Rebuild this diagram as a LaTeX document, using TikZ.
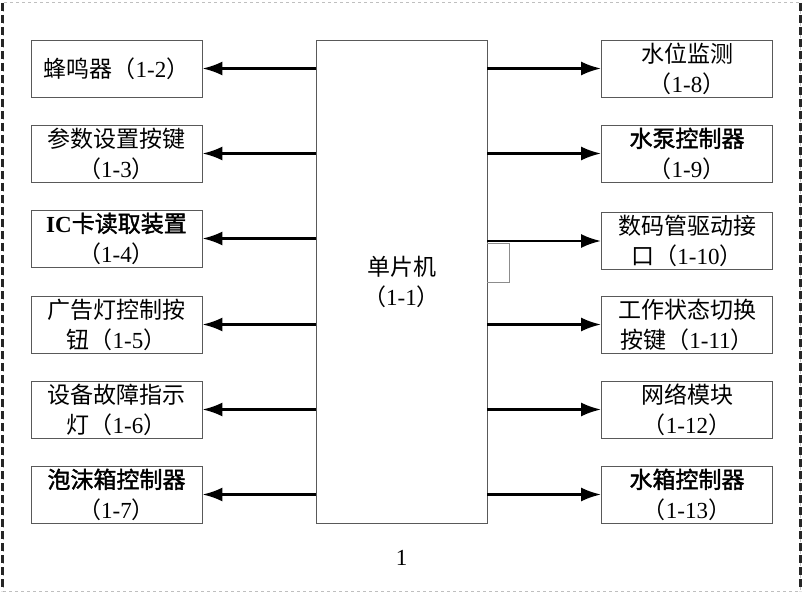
\documentclass[tikz,border=0pt]{standalone}
\usepackage{fontspec}
\setmainfont{Liberation Serif}
\newfontfamily\cjk{Noto Sans CJK SC}
\newfontfamily\cjkheavy{Noto Sans CJK SC}[FakeBold=1.6]
\usetikzlibrary{arrows.meta}
\newcommand\zh[1]{{\cjk #1}}
\newcommand\zhb[1]{{\cjkheavy #1}}
\newcommand\unitno[1]{\zh{（}1-#1\zh{）}}
\tikzset{
  unit/.style={draw=black!65, line width=0.8pt, minimum width=171pt, minimum height=57pt,
    inner sep=0pt, align=center, font=\fontsize{23}{30}\selectfont},
  link/.style={line width=2.6pt, -{Latex[length=20pt,width=14pt]}},
  edge/.style={dash pattern=on 8pt off 4pt, line width=2.4pt, black!85},
}

\begin{document}
\begin{tikzpicture}[x=1pt,y=-1pt]
	%%%%% FRAME %%%%%
	\useasboundingbox (0,0) rectangle (803,596);
	\draw[dashed, black!25, line width=1pt] (3,3) rectangle (800,591);
	\draw[edge] (2.5,3) -- (2.5,591);
	\draw[edge] (800.5,3) -- (800.5,591);
	
	%%%%% MCU %%%%%
	\node[unit, minimum height=483pt] (mcu) at (401.5,281.5) {\zh{单片机}\\\unitno{1}};
	
	%%%%% LEFT %%%%%
	\node[unit] (buzzer) at (116.5,68.5) {\zh{蜂鸣器}\unitno{2}};
	\node[unit] (setkey) at (116.5,153.5) {\zh{参数设置按键}\\\unitno{3}};
	\node[unit] (icread) at (116.5,238.5) {\textbf{IC}\zhb{卡读取装置}\\\unitno{4}};
	\node[unit] (adkey) at (116.5,324.5) {\zh{广告灯控制按}\\\zh{钮}\unitno{5}};
	\node[unit] (faultled) at (116.5,409.5) {\zh{设备故障指示}\\\zh{灯}\unitno{6}};
	\node[unit] (foambox) at (116.5,494.5) {\zhb{泡沫箱控制器}\\\unitno{7}};
	
	%%%%% RIGHT %%%%%
	\node[unit] (level) at (687,68.5) {\zh{水位监测}\\\unitno{8}};
	\node[unit] (pump) at (687,153.5) {\zhb{水泵控制器}\\\unitno{9}};
	\node[unit] (segdrv) at (687,241) {\zh{数码管驱动接}\\\zh{口}\unitno{10}};
	\node[unit] (modekey) at (687,324.5) {\zh{工作状态切换}\\\zh{按键}\unitno{11}};
	\node[unit] (netmod) at (687,409.5) {\zh{网络模块}\\\unitno{12}};
	\node[unit] (tankctl) at (687,494.5) {\zhb{水箱控制器}\\\unitno{13}};
	
	%%%%% LINKS %%%%%
	\draw[link] (mcu.west |- buzzer) -- (buzzer.east);
	\draw[link] (mcu.west |- setkey) -- (setkey.east);
	\draw[link] (mcu.west |- icread) -- (icread.east);
	\draw[link] (mcu.west |- adkey) -- (adkey.east);
	\draw[link] (mcu.west |- faultled) -- (faultled.east);
	\draw[link] (mcu.west |- foambox) -- (foambox.east);
	
	\draw[link] (mcu.east |- level) -- (level.west);
	\draw[link] (mcu.east |- pump) -- (pump.west);
	\draw[link] (mcu.east |- segdrv) -- (segdrv.west);
	\draw[link] (mcu.east |- modekey) -- (modekey.west);
	\draw[link] (mcu.east |- netmod) -- (netmod.west);
	\draw[link] (mcu.east |- tankctl) -- (tankctl.west);
	
	\coordinate (bracket) at (509,282);
	\draw[black!45, line width=0.9pt] (mcu.east |- 0,243) -| (bracket) -- (mcu.east |- bracket);
	
	%%%%% CAPTION %%%%%
	\node[font=\fontsize{23}{28}\selectfont] (figno) at (401.5,558) {1};
\end{tikzpicture}
\end{document}
